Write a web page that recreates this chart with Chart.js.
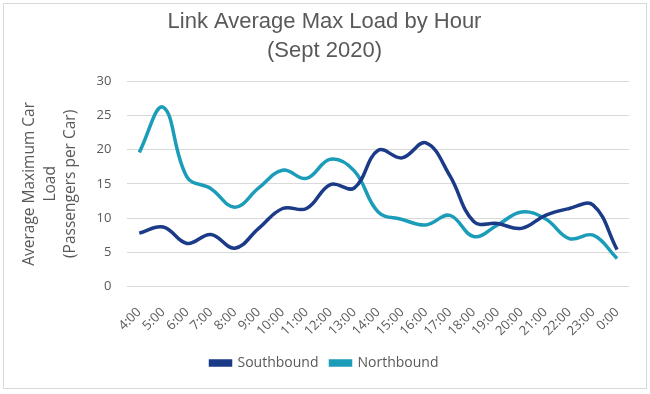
<!DOCTYPE html>
<html>
<head>
<meta charset="utf-8">
<script src="https://cdn.jsdelivr.net/npm/chart.js@4.4.1/dist/chart.umd.min.js"></script>
<style>
  html, body { margin: 0; padding: 0; background: #fff; }
  #frame { position: absolute; left: 3px; top: 3px; width: 642px; height: 384px; border: 1px solid #d9d9d9; }
  #wrap { position: absolute; left: 0; top: 0; width: 650px; height: 394px; }
</style>
</head>
<body>
<div id="frame"></div>
<div id="wrap"><canvas id="loadChart" width="650" height="394"></canvas></div>
<script>
const hours = ['4:00', '5:00', '6:00', '7:00', '8:00', '9:00', '10:00', '11:00', '12:00', '13:00',
    '14:00', '15:00', '16:00', '17:00', '18:00', '19:00', '20:00', '21:00', '22:00', '23:00', '0:00'];
const southbound = [7.8, 8.7, 6.3, 7.6, 5.6, 8.5, 11.4, 11.4, 14.9, 14.4,
    19.9, 18.8, 21.0, 16.2, 9.5, 9.2, 8.5, 10.4, 11.4, 11.9, 5.4];
const northbound = [19.6, 26.2, 16.0, 14.3, 11.6, 14.4, 17.0, 15.8, 18.6, 16.9,
    10.9, 9.8, 9.0, 10.4, 7.3, 9.0, 10.9, 9.9, 7.0, 7.5, 4.1];
const yTicks = [0, 5, 10, 15, 20, 25, 30];

const grey = '#595959';

document.addEventListener('DOMContentLoaded', () => {
    let ctx = document.getElementById('loadChart').getContext('2d');
    new Chart(ctx, {
        type: 'line',
        data: {
            labels: hours,
            datasets: [{
                label: 'Southbound',
                data: southbound,
                borderColor: '#1b3a87',
                backgroundColor: '#1b3a87',
                borderWidth: 3.5,
                pointRadius: 0,
                tension: 0.4
            }, {
                label: 'Northbound',
                data: northbound,
                borderColor: '#1b9cb8',
                backgroundColor: '#1b9cb8',
                borderWidth: 3.5,
                pointRadius: 0,
                tension: 0.4
            }]
        },
        options: {
            responsive: false,
            animation: false,
            layout: { padding: { left: 20, right: 21, top: 4, bottom: 14 } },
            scales: {
                y: {
                    min: 0,
                    max: 30,
                    afterBuildTicks: (axis) => { axis.ticks = yTicks.map(v => ({ value: v })); },
                    ticks: { color: grey, font: { family: 'Open Sans', size: 13 }, padding: 16 },
                    grid: { color: '#d9d9d9', drawTicks: false },
                    border: { display: false },
                    title: {
                        display: true,
                        text: ['Average Maximum Car', 'Load', '(Passengers per Car)'],
                        color: grey,
                        font: { family: 'Open Sans', size: 15.5, lineHeight: 1.3 },
                        padding: { top: 0, bottom: 0 }
                    }
                },
                x: {
                    offset: true,
                    afterFit: (axis) => { axis.height -= 5; },
                    ticks: { color: grey, font: { family: 'Open Sans', size: 13 }, padding: 10, maxRotation: 45, minRotation: 45, autoSkip: false },
                    grid: { display: false },
                    border: { display: false }
                }
            },
            plugins: {
                title: {
                    display: true,
                    text: ['Link Average Max Load by Hour', '(Sept 2020)'],
                    color: grey,
                    font: { family: "'Liberation Sans', sans-serif", size: 22, weight: 'normal', lineHeight: 1.3 },
                    padding: { top: 4, bottom: 16 }
                },
                legend: {
                    position: 'bottom',
                    labels: {
                        color: grey,
                        font: { family: 'Open Sans', size: 14 },
                        boxWidth: 20,
                        boxHeight: 4,
                        padding: 12
                    }
                },
                tooltip: { enabled: false }
            }
        }
    });
});
</script>
</body>
</html>
